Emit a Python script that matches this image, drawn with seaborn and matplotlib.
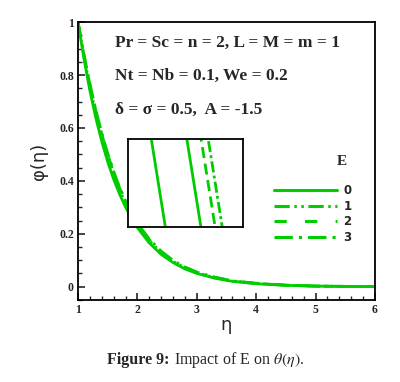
import numpy as np
import pandas as pd
import seaborn as sns
import matplotlib.pyplot as plt
from matplotlib.ticker import MultipleLocator

# values
eta = [1.0, 1.1, 1.2, 1.3, 1.4, 1.5, 1.6, 1.7, 1.8, 1.9, 2.0, 2.2, 2.4, 2.6,
       2.8, 3.0, 3.3, 3.6, 4.0, 4.5, 5.0, 5.5, 6.0]
phi_e0 = [1.000, 0.862, 0.741, 0.638, 0.549, 0.472, 0.406, 0.350, 0.301, 0.259, 0.223, 0.165,
          0.122, 0.091, 0.067, 0.050, 0.032, 0.020, 0.011, 0.005, 0.002, 0.001, 0.000]
phi_e1 = [1.000, 0.872, 0.757, 0.657, 0.569, 0.492, 0.425, 0.367, 0.316, 0.272, 0.234, 0.174,
          0.129, 0.096, 0.071, 0.053, 0.034, 0.021, 0.012, 0.005, 0.002, 0.001, 0.000]
phi_e2 = [1.000, 0.876, 0.765, 0.665, 0.577, 0.500, 0.432, 0.373, 0.322, 0.277, 0.238, 0.178,
          0.132, 0.098, 0.073, 0.054, 0.035, 0.022, 0.012, 0.006, 0.002, 0.001, 0.000]
phi_e3 = [1.000, 0.878, 0.768, 0.669, 0.581, 0.504, 0.436, 0.376, 0.325, 0.280, 0.240, 0.180,
          0.134, 0.099, 0.074, 0.055, 0.036, 0.022, 0.013, 0.006, 0.002, 0.001, 0.000]
e_labels = ['0', '1', '2', '3']

x_ticks = [1, 2, 3, 4, 5, 6]
y_ticks = [0, 0.2, 0.4, 0.6, 0.8, 1.0]
y_tick_labels = ['0', '0.2', '0.4', '0.6', '0.8', '1']

GREEN = '#00cc00'
dash_map = {'0': '', '1': (5, 1.5, 0.8, 1.5, 0.8, 1.5), '2': (4, 6), '3': (6, 2, 1, 2)}
inset_dash_map = {'0': '', '1': '', '2': (4, 2), '3': (4, 1.2, 1, 1.2)}

df = pd.DataFrame({
    'eta': eta * 4,
    'phi': phi_e0 + phi_e1 + phi_e2 + phi_e3,
    'E': [lab for lab in e_labels for _ in eta],
})

sns.set_style('white')
plt.rcParams['mathtext.fontset'] = 'stix'

fig = plt.figure(figsize=(4.0, 3.82), dpi=100)
ax = fig.add_axes([0.195, 0.215, 0.7425, 0.727])

sns.lineplot(data=df, x='eta', y='phi', hue='E', style='E', palette=[GREEN] * 4,
             dashes=dash_map, linewidth=2.0, ax=ax, legend=False, sort=False)

ax.set_xlim(1, 6)
ax.set_ylim(-0.05, 1.0)
ax.set_xticks(x_ticks)
ax.set_xticklabels([str(t) for t in x_ticks])
ax.set_yticks(y_ticks)
ax.set_yticklabels(y_tick_labels)
ax.xaxis.set_minor_locator(MultipleLocator(0.2))
ax.yaxis.set_minor_locator(MultipleLocator(0.05))
ax.tick_params(which='both', direction='in', top=False, right=False, bottom=True, left=True)
ax.tick_params(which='major', length=5, width=1.2, labelsize=8.5, pad=3)
ax.tick_params(which='minor', length=3, width=1.0)
for lab in ax.get_xticklabels() + ax.get_yticklabels():
    lab.set_fontfamily('Liberation Serif')
    lab.set_fontweight('bold')
for sp in ax.spines.values():
    sp.set_color('black')
    sp.set_linewidth(1.3)

ax.set_xlabel('η', fontsize=13, labelpad=0)
ax.set_ylabel('φ(η)', fontsize=13, labelpad=8)

# parameter text
txt_kw = dict(transform=ax.transAxes, fontsize=12.5, fontweight='bold',
              fontfamily='Liberation Serif', va='center', ha='left')
ax.text(0.125, 0.925, 'Pr = Sc = n = 2, L = M = m = 1', **txt_kw)
ax.text(0.125, 0.805, 'Nt = Nb = 0.1, We = 0.2', **txt_kw)
ax.text(0.125, 0.685, 'δ = σ = 0.5,  A = -1.5', **txt_kw)

# legend
handles = []
for k in e_labels:
    h = plt.Line2D([], [], color=GREEN, linewidth=2.2)
    if dash_map[k]:
        h.set_dashes(dash_map[k])
    handles.append(h)
ax.legend(handles, e_labels, frameon=False, handlelength=5.3,
          loc='upper left', bbox_to_anchor=(0.625, 0.455), prop={'size': 8.5, 'weight': 'bold'},
          labelspacing=0.22, handletextpad=0.55)
ax.text(0.89, 0.50, 'E', transform=ax.transAxes, ha='center', va='center',
        fontsize=11, fontweight='bold', fontfamily='Liberation Serif')

# zoomed inset
axin = fig.add_axes([0.32, 0.406, 0.2875, 0.230])
sns.lineplot(data=df, x='eta', y='phi', hue='E', style='E', palette=[GREEN] * 4,
             dashes=inset_dash_map, linewidth=2.0, ax=axin, legend=False, sort=False)
axin.set_xlim(1.40, 1.484)
axin.set_ylim(0.5280, 0.5359)
axin.set_xticks([1.4425])
axin.set_yticks([0.532])
axin.set_xticklabels([])
axin.set_yticklabels([])
axin.tick_params(direction='in', length=2, width=0.8)
axin.set_xlabel('')
axin.set_ylabel('')
axin.set_facecolor('white')
for sp in axin.spines.values():
    sp.set_color('black')
    sp.set_linewidth(1.3)

# caption, bold lead-in followed by normal text on the same baseline
cap_y = 0.048
cap = fig.text(0.268, cap_y, 'Figure 9:', ha='left', va='baseline', fontsize=11.5,
               fontfamily='Liberation Serif', fontweight='bold')
fig.canvas.draw()
bb = cap.get_window_extent().transformed(fig.transFigure.inverted())
fig.text(bb.x1, cap_y, r' Impact of E on $\theta(\eta)$.', ha='left', va='baseline',
         fontsize=11.5, fontfamily='Liberation Serif')

fig.savefig('out.png', dpi=100)
